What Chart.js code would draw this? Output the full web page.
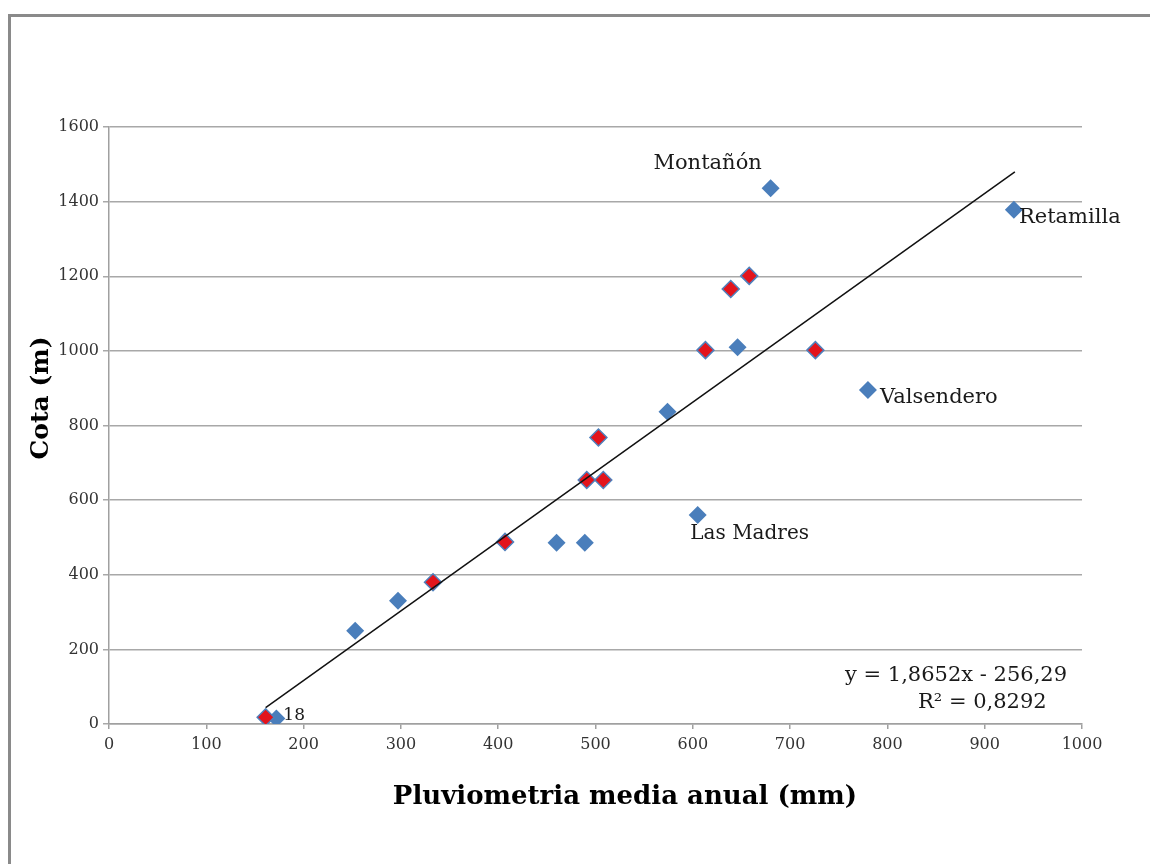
<!DOCTYPE html>
<html>
<head>
<meta charset="utf-8">
<script src="https://cdn.jsdelivr.net/npm/chart.js@4.4.0/dist/chart.umd.min.js"></script>
<style>
    body { margin: 0; background: #fff; overflow: hidden; }
    #wrap { position: relative; width: 1150px; height: 864px; }
    #frame { position: absolute; left: 8px; top: 14px; width: 1200px; height: 900px;
             border-top: 3px solid #8a8a8a; border-left: 3px solid #8a8a8a; }
    canvas { position: absolute; left: 0; top: 0; }
</style>
</head>
<body>
<div id="wrap">
    <div id="frame"></div>
    <canvas id="chart" width="1150" height="864"></canvas>
</div>
<script>
// estaciones (solo azul)
const blueX = [172, 253, 297, 460, 489, 574, 605, 646, 680, 780, 930];
const blueY = [15, 250, 330, 486, 486, 837, 560, 1010, 1436, 895, 1378];
// estaciones marcadas en rojo
const redX = [161, 333, 407, 491, 503, 508, 613, 639, 658, 726];
const redY = [18, 380, 488, 654, 768, 654, 1002, 1166, 1201, 1002];
// linea de tendencia (extremos)
const trendX = [161, 931];
const trendY = [44, 1480];
// etiquetas de puntos (indice en blueX/blueY)
const pointLabels = ['18', 'Las Madres', 'Montañón', 'Valsendero', 'Retamilla'];
const pointLabelIdx = [0, 6, 8, 9, 10];
const eqLines = ['y = 1,8652x - 256,29', 'R² = 0,8292'];
const xTitle = 'Pluviometria media anual (mm)';
const yTitle = 'Cota (m)';

const serif = "'DejaVu Serif', 'Liberation Serif', serif";

// desplazamientos de las etiquetas respecto al punto (px)
const labelPos = {
    '18': { dx: 7, dy: -3, align: 'left', size: 17 },
    'Las Madres': { dx: 52, dy: 19, align: 'center', size: 20 },
    'Montañón': { dx: -63, dy: -25, align: 'center', size: 21 },
    'Valsendero': { dx: 12, dy: 7, align: 'left', size: 21 },
    'Retamilla': { dx: 5, dy: 8, align: 'left', size: 21 }
};

const textPlugin = {
    id: 'textPlugin',
    afterDraw(chart) {
        const ctx = chart.ctx;
        const xs = chart.scales.x, ys = chart.scales.y;
        ctx.save();
        ctx.fillStyle = '#1a1a1a';
        ctx.textBaseline = 'middle';

        pointLabels.forEach((txt, i) => {
            const k = pointLabelIdx[i];
            const p = labelPos[txt];
            ctx.font = p.size + 'px ' + serif;
            ctx.textAlign = p.align;
            ctx.fillText(txt, xs.getPixelForValue(blueX[k]) + p.dx, ys.getPixelForValue(blueY[k]) + p.dy);
        });

        // ecuacion de la recta
        ctx.font = '21px ' + serif;
        ctx.textAlign = 'left';
        ctx.fillText(eqLines[0], 845, 676);
        ctx.fillText(eqLines[1], 918, 703);

        // titulos de ejes
        ctx.fillStyle = '#000';
        ctx.font = 'bold 26px ' + serif;
        ctx.textAlign = 'center';
        ctx.fillText(xTitle, 625, 797);
        ctx.translate(41, 398);
        ctx.rotate(-Math.PI / 2);
        ctx.font = 'bold 25px ' + serif;
        ctx.fillText(yTitle, 0, 0);
        ctx.restore();
    }
};

const ctx = document.getElementById('chart').getContext('2d');
new Chart(ctx, {
    type: 'scatter',
    data: {
        datasets: [
            {
                label: 'Tendencia',
                data: trendX.map((x, i) => ({ x, y: trendY[i] })),
                showLine: true,
                borderColor: '#111',
                borderWidth: 1.5,
                pointRadius: 0
            },
            {
                label: 'Rojo',
                data: redX.map((x, i) => ({ x, y: redY[i] })),
                pointStyle: 'rectRot',
                pointRadius: 8.5,
                backgroundColor: '#e3141c',
                borderColor: '#4f81bd',
                borderWidth: 1.5
            },
            {
                label: 'Azul',
                data: blueX.map((x, i) => ({ x, y: blueY[i] })),
                pointStyle: 'rectRot',
                pointRadius: 9,
                backgroundColor: '#4a7ebb',
                borderColor: '#4a7ebb',
                borderWidth: 0
            }
        ]
    },
    options: {
        responsive: false,
        animation: false,
        devicePixelRatio: 1,
        layout: { padding: { top: 127, right: 68, left: 0, bottom: 0 } },
        plugins: {
            legend: { display: false },
            tooltip: { enabled: false }
        },
        scales: {
            x: {
                type: 'linear',
                min: 0,
                max: 1000,
                afterFit: s => { s.height = 140; },
                ticks: { stepSize: 100, color: '#333', padding: 6, font: { family: serif, size: 16 },
                         callback: v => String(v) },
                grid: { drawOnChartArea: false, drawTicks: true, tickLength: 5, color: '#a0a0a0', lineWidth: 1.5 },
                border: { color: '#a0a0a0', width: 1.5 }
            },
            y: {
                min: 0,
                max: 1600,
                afterFit: s => { s.width = 109; },
                ticks: { stepSize: 200, color: '#333', padding: 4, font: { family: serif, size: 16 },
                         callback: v => String(v) },
                grid: { color: '#a8a8a8', lineWidth: 1.5, tickLength: 6 },
                border: { color: '#a0a0a0', width: 1.5 }
            }
        }
    },
    plugins: [textPlugin]
});
</script>
</body>
</html>
